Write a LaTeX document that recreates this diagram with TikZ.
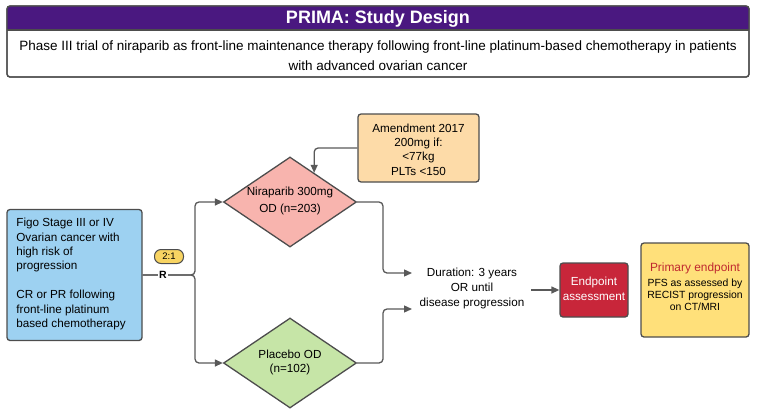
\documentclass[tikz,border=0pt]{standalone}
\usepackage{fontspec}
\setmainfont{Liberation Sans}
\usetikzlibrary{shapes.geometric,arrows.meta,calc}
\definecolor{ttlpurple}{HTML}{4A1880}
\definecolor{bordergray}{HTML}{4D4D4D}
\definecolor{linegray}{HTML}{595959}
\definecolor{figoblue}{HTML}{9DD1F1}
\definecolor{nirapink}{HTML}{F8B4AE}
\definecolor{placgreen}{HTML}{C6E5A7}
\definecolor{amendpeach}{HTML}{FDDBA8}
\definecolor{endred}{HTML}{C8263A}
\definecolor{primyellow}{HTML}{FFE07A}
\definecolor{primred}{HTML}{C0282F}
\definecolor{pillyellow}{HTML}{F8D462}
\begin{document}
\begin{tikzpicture}[x=1pt,y=-1pt,
  conn/.style={draw=linegray, line width=1.3pt},
  arr/.style={conn, -{Triangle[length=8pt,width=7pt]}, rounded corners=4pt},
  box/.style={draw=bordergray, line width=1.3pt, rounded corners=3pt, inner sep=0pt},
  dia/.style={diamond, draw=bordergray, line width=1.3pt, minimum width=133pt, minimum height=90pt, inner sep=0pt},
  body/.style={font=\fontsize{11.7}{14.4}\selectfont, align=center, inner sep=0pt}]
\useasboundingbox (0,0) rectangle (758,413);

% header
\node[box, fill=white, minimum width=742pt, minimum height=71pt] (hdr) at (378,41.5) {};
\path[fill=ttlpurple] (7,30) [rounded corners=3pt]-- (7,6) -- (749,6) [sharp corners]-- (749,30) -- cycle;
\draw[bordergray, line width=1.3pt] (7,30) -- (749,30);
\draw[bordergray, line width=1.3pt, rounded corners=3pt] (7,6) rectangle (749,77);
\node[text=white, font=\bfseries\fontsize{18}{20}\selectfont, inner sep=0pt] (title) at (378,18.5) {PRIMA: Study Design};
\node[font=\fontsize{13.5}{20}\selectfont, align=center, inner sep=0pt] (sub) at (378,56) {Phase III trial of niraparib as front-line maintenance therapy following front-line platinum-based chemotherapy in patients\\with advanced ovarian cancer};

% boxes
\node[box, fill=figoblue, minimum width=135pt, minimum height=131pt] (figo) at (74.5,275) {};
\node[body, align=left] (figotxt) at (71,274) {Figo Stage III or IV\\Ovarian cancer with\\high risk of\\progression\\[14.4pt]CR or PR following\\front-line platinum\\based chemotherapy};

\node[dia, fill=nirapink] (nir) at (290,202) {};
\node[body, font=\fontsize{11.7}{17}\selectfont] (nirtxt) at (290,200.5) {Niraparib 300mg\\OD (n=203)};

\node[dia, fill=placgreen] (plac) at (290,363) {};
\node[body, font=\fontsize{11.7}{13.5}\selectfont] (plactxt) at (290,362.5) {Placebo OD\\(n=102)};

\node[box, fill=amendpeach, minimum width=121pt, minimum height=68pt] (amend) at (418.5,148) {};
\node[body] (amendtxt) at (418.5,149.5) {Amendment 2017\\200mg if:\\<77kg\\PLTs <150};

\node[body, font=\fontsize{11.7}{15}\selectfont, inner xsep=6.5pt] (dur) at (472,288) {Duration: 3 years\\OR until\\disease progression};

\node[box, fill=endred, minimum width=68pt, minimum height=54pt] (endp) at (594,290) {};
\node[body, text=white] (endptxt) at (594,289) {Endpoint\\assessment};

\node[box, fill=primyellow, minimum width=108pt, minimum height=94pt] (prim) at (695,290) {};
\node[font=\fontsize{11.9}{14}\selectfont, text=primred, inner sep=0pt] (primtitle) at (695,268) {Primary endpoint};
\node[font=\fontsize{10.4}{12.2}\selectfont, align=center, inner sep=0pt] (primtxt) at (695,295) {PFS as assessed by\\RECIST progression\\on CT/MRI};

% connectors
\coordinate (jn) at (195,275);
\coordinate (mx) at (383,0);
\coordinate (d1) at (412,273);
\coordinate (d2) at (412,309);
\coordinate (nirhit) at ($(nir.north)!0.36!(nir.east)$);

\draw[arr] (figo.east) -- (jn) |- (nir.west);
\draw[arr] (figo.east) -- (jn) |- (plac.west);
\draw[arr] (nir.east) -| (mx |- d1) -- (d1);
\draw[arr] (plac.east) -| (mx |- d2) -- (d2);
\draw[arr] (dur.east |- endp.west) -- (endp.west);
\draw[arr] (amend.west) -| (nirhit);

\node[fill=white, inner sep=0.8pt, font=\bfseries\fontsize{10.5}{12}\selectfont] (rlab) at (163,275) {R};
\node[draw=bordergray, line width=1pt, fill=pillyellow, rounded corners=6.5pt, minimum width=29pt, minimum height=14pt, inner sep=0pt, font=\fontsize{9.5}{10}\selectfont] (ratio) at (169,256.5) {2:1};
\end{tikzpicture}
\end{document}
